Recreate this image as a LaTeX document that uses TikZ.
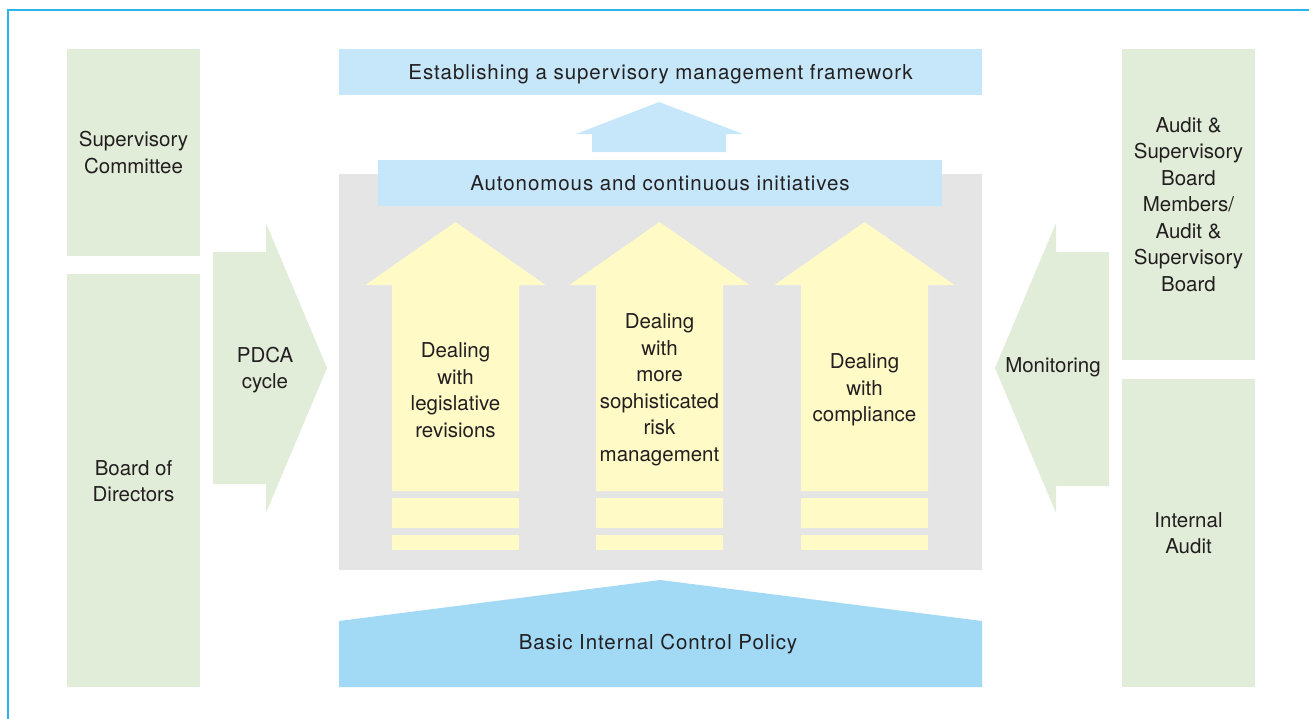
\documentclass[tikz,border=0pt]{standalone}
\usepackage{fontspec}
\setmainfont{TeX Gyre Heros}
\usetikzlibrary{positioning}

\begin{document}
\begin{tikzpicture}[x=1pt, y=-1pt,
    label text/.style={text=ink, font=\fontsize{20.5}{26.5}\selectfont, align=center, inner sep=0pt},
    wide text/.style={font=\fontsize{20.5}{26.5}\selectfont\addfontfeature{LetterSpace=4.5}},
    sidebox/.style={label text, fill=box green, minimum width=133pt},
    bluebox/.style={label text, wide text, fill=box blue, minimum height=46pt, text depth=0pt}]
  \definecolor{frame blue}{HTML}{2AB4E8}
  \definecolor{box green}{HTML}{E1EDD8}
  \definecolor{box blue}{HTML}{C6E7F9}
  \definecolor{base blue}{HTML}{A2D9F5}
  \definecolor{arrow yellow}{HTML}{FFFAC6}
  \definecolor{panel gray}{HTML}{E5E5E5}
  \definecolor{ink}{HTML}{231F20}
  \useasboundingbox (0,0) rectangle (1309,718);
  \draw[frame blue, line width=2pt] (7.5,730) |- (1320,9.5);
  % side columns
  \node[sidebox, minimum height=207pt] (supcom) at (133.5,152.5) {Supervisory\\Committee};
  \node[sidebox, minimum height=413pt, below=18pt of supcom] (board) {Board of\\Directors};
  \node[sidebox, minimum height=311pt] (auditbd) at (1188.5,204.5) {Audit \&\\Supervisory\\Board\\Members/\\Audit \&\\Supervisory\\Board};
  \node[sidebox, minimum height=308pt, below=19pt of auditbd] (intaudit) {Internal\\Audit};
  % centre panel
  \fill[panel gray] (339,174) rectangle (982,570);
  \node[bluebox, minimum width=643pt] (frame) at (660.5,72) {Establishing a supervisory management framework};
  \node[bluebox, minimum width=564pt] (auto) at (660,183) {Autonomous and continuous initiatives};
  \fill[box blue] (592,152) -- (592,134) -- (576,134) -- (659,102) -- (743,134) -- (726,134) -- (726,152) -- cycle;
  \foreach \cx/\txt [count=\i] in {455.5/{Dealing\\with\\legislative\\revisions},
      659.5/{Dealing\\with\\more\\sophisticated\\risk\\management},
      864.5/{Dealing\\with\\compliance}} {
    \fill[arrow yellow] (\cx-63.5,491) -- (\cx-63.5,285) -- (\cx-90,285) -- (\cx,222)
      -- (\cx+90,285) -- (\cx+63.5,285) -- (\cx+63.5,491) -- cycle;
    \fill[arrow yellow] (\cx-63.5,498) rectangle (\cx+63.5,528);
    \fill[arrow yellow] (\cx-63.5,535) rectangle (\cx+63.5,550);
    \node[label text] (deal\i) at (\cx,390) {\txt};
  }
  % base
  \fill[base blue] (339,687) -- (339,621) -- (660.5,580) -- (982,621) -- (982,687) -- cycle;
  \node[label text, wide text] (policy) at (658,644) {Basic Internal Control Policy};
  % side arrows
  \fill[box green] (213,252) -- (266,252) -- (266,223) -- (327,368) -- (266,513) -- (266,484) -- (213,484) -- cycle;
  \node[label text] (pdca) at (265,370) {PDCA\\cycle};
  \fill[box green] (1109,252) -- (1056,252) -- (1056,223) -- (995,368) -- (1056,513) -- (1056,486) -- (1109,486) -- cycle;
  \node[label text] (monitor) at (1053,367) {Monitoring};
\end{tikzpicture}
\end{document}
